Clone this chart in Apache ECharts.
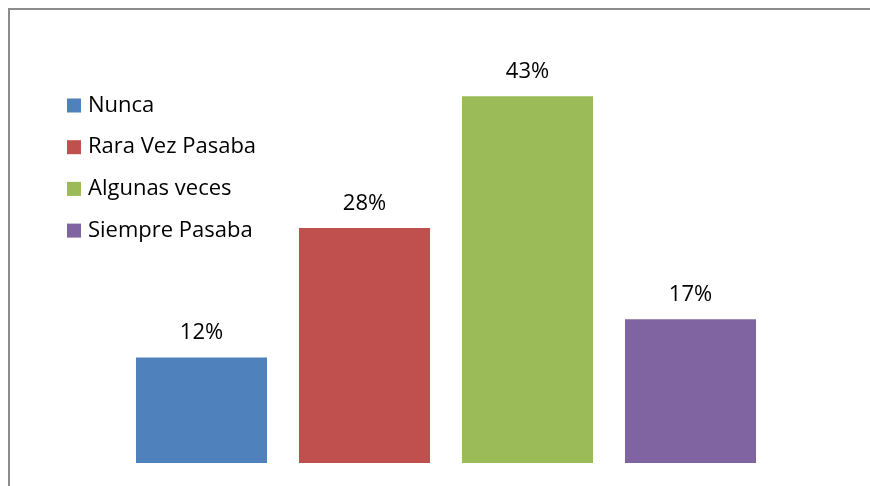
<!DOCTYPE html>
<html>
<head>
<meta charset="utf-8">
<script src="https://cdn.jsdelivr.net/npm/echarts@6/dist/echarts.min.js"></script>
<style>
html,body{margin:0;padding:0;background:#fff;}
#chart{width:870px;height:486px;}
</style>
</head>
<body>
<div id="chart"></div>
<script>
var categories = ['Nunca', 'Rara Vez Pasaba', 'Algunas veces', 'Siempre Pasaba'];
var values = [12.4, 27.6, 43.1, 16.9];
var colors = ['#4F81BD', '#C0504D', '#9BBB59', '#8064A2'];

var FONT = 'Open Sans';
var chart = echarts.init(document.getElementById('chart'));
var series = categories.map(function (name, i) {
  var data = categories.map(function (c, j) { return j === i ? values[i] : '-'; });
  return {
    name: name,
    type: 'bar',
    stack: 'all',
    barCategoryGap: '19.6%',
    data: data,
    itemStyle: { color: colors[i] },
    label: {
      show: true,
      position: 'top',
      distance: 13.5,
      fontFamily: FONT,
      fontSize: 22,
      color: '#000',
      formatter: function (p) { return Math.round(p.value) + '%'; }
    },
    emphasis: { disabled: true },
    animation: false
  };
});

chart.setOption({
  animation: false,
  graphic: [{
    type: 'rect',
    shape: { x: 9, y: 9, width: 900, height: 520 },
    style: { fill: 'none', stroke: '#8c8c8c', lineWidth: 2 },
    silent: true
  }],
  legend: {
    orient: 'vertical',
    left: 67,
    top: 94.5,
    padding: 0,
    itemWidth: 14,
    itemHeight: 14,
    itemGap: 19.7,
    icon: 'rect',
    data: categories,
    textStyle: { fontFamily: FONT, fontSize: 22, lineHeight: 22, color: '#000', padding: [0, 0, 0, 2] }
  },
  grid: { left: 120, width: 652, bottom: 23, top: 37.5, containLabel: false },
  xAxis: {
    type: 'category',
    data: categories,
    show: false
  },
  yAxis: {
    type: 'value',
    min: 0,
    max: 50,
    show: false,
    splitLine: { show: false }
  },
  series: series
});
</script>
</body>
</html>
